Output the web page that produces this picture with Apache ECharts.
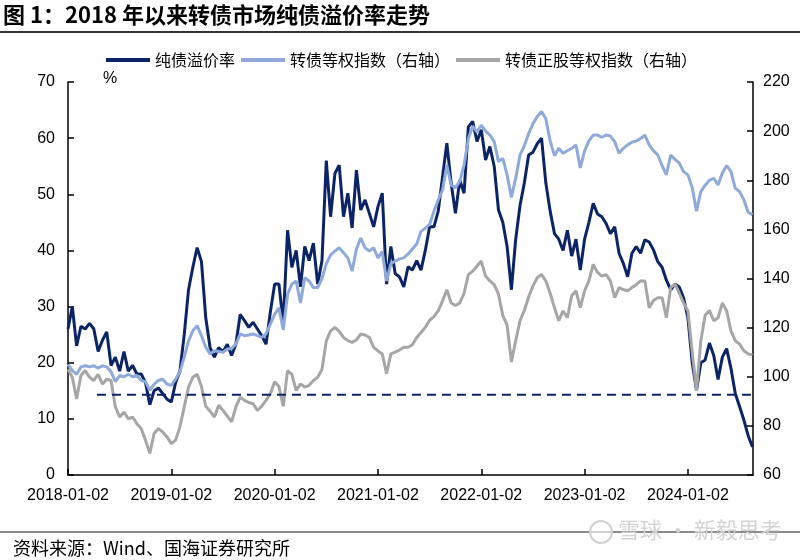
<!DOCTYPE html>
<html><head><meta charset="utf-8">
<script src="https://cdn.jsdelivr.net/npm/echarts@6/dist/echarts.min.js"></script>
<style>html,body{margin:0;padding:0;background:#fff}#c{width:800px;height:560px}</style>
</head><body><div id="c"></div>
<script>
// x tick labels (one per year, start of axis at 2018-01-02)
const xTickLabels = ['2018-01-02','2019-01-02','2020-01-02','2021-01-02','2022-01-02','2023-01-02','2024-01-02'];
const stepYears = 1 / 24;          // samples every half month
const xMax = 6.63;                 // axis end (~mid Aug 2024), in years since 2018-01-02

// 纯债溢价率 (%), left axis
const premium = [26,30,23,26.5,26,27,26,22,24,25.5,
19.5,21,18.5,22,18.5,19.5,18,18,16.5,12.5,
15,15.5,14.5,13.5,13,16.5,18.5,25,33,37,
40.5,38,28,22.7,21,22.7,21.9,23.3,21.3,23.3,
28.6,27.5,26.3,27.2,26,24.8,23.3,29,34,34,
27,43.6,37,40,33.5,40.7,38.2,41.3,34,38.2,
56,46,53.7,55.2,46,50.2,44,54.3,47.2,49,
46.6,44.2,47.8,50.2,34,40.7,35.9,35.3,33.5,37.1,
36.5,38.2,36.5,40,44.2,44.2,47,53.1,59.1,52,
46.6,52.5,50.2,62,63,59.4,61.5,56.1,58.5,55,
47.2,45,40.7,33,42,48,52,57,57.5,59,
60,52,47,43,42,40,43.6,39,42,36.5,
42,45,48.4,46.5,46,44.8,43,44.2,39.5,37.7,
35.3,39.5,40.7,39.5,41.9,41.5,40.1,38,37,34.7,
33,34,33.5,31.5,28,20,15.1,20,20.5,23.5,
21.3,17,21,22.5,19,14.5,12.2,9.8,7,5];

// 转债等权指数 (right axis)
const cbIndex = [105,102.5,101,104,104.5,104,104.5,103.5,104.5,104,
102,98,100.5,100,101,100,100.5,98.5,98,94.5,
97,98.5,99,97,96.5,99,102,108,114.6,118.7,
120.8,116.7,112,109.3,110.6,110.3,110,111.3,111.5,113.3,
117.4,116.7,117,117.4,116.7,116,117.5,121.4,125.4,128.1,
119,133.6,137.7,139,130,140.3,139,136.3,136.3,140,
146,149.5,151.2,152.5,150.5,148.4,143,152,156.5,152.5,
151.2,152.5,148.4,151,139,146,147.1,148,148.4,150,
152,154,159.2,160.5,162,167.4,172,176,186.2,178,
177,179.5,186.2,197,202,199.7,202.4,200,198.4,195.7,
187.6,188.9,182.2,173,180.8,190.3,194,199,203,206,
208,205,196,190,193,191,192,193,194.4,185,
192,196,198.4,198.4,197.5,198.4,198,195.7,191,193,
194.4,195.5,196,197,198.4,194.4,192,190.3,186,182.2,
190.3,188.5,187,183.5,182.2,177,167.4,175.4,178,180,
180.8,178.1,183,186,183.5,176.8,175.4,172,167,166];

// 转债正股等权指数 (right axis)
const stockIndex = [103,99.8,91,100.5,102.5,99.8,98.5,101,97,99,
98.5,87.7,83.6,85.6,82.9,83.6,80.9,78.9,74.2,68.8,
76.9,78.9,77.5,75.5,72.8,74.2,79.6,87.7,95.8,99.8,
101,96,88,86,83.6,88.4,86.3,84,81.6,87.7,
91.7,90.4,89.5,89,86.3,88,90.4,93.1,98,96,
88,102.5,101,94.4,97.1,95.8,96.5,98.5,99.8,103,
114.6,118.7,120.1,118.5,116,114.7,114,115,117.4,117,
116,112,110.5,109.3,101.2,109.3,110,110.9,112,112,
113,116,118,120.1,123,124.5,126.8,130.9,135.4,130,
129,130,134,141.6,143,145,147.1,141,139,137.5,
133.6,125,121,106,114.7,122.8,127,132.5,137,140.3,
141.6,139,134,128.1,122.8,126.8,124,133,135,128.1,
135,139,145.7,142.5,141,141.6,139,132.2,136.3,135.5,
135,136.3,137.5,139,139,128.1,131,132.2,132.2,124,
136.3,137.7,134,130,126.8,110,94.4,114.7,125,127,
122.8,124,130,126.8,118.7,114.7,113.3,110.6,109.3,109];

// dashed reference level (%) and its span (years since 2018-01-02)
const refLevel = 14.3;
const refSpan = [0.28, 6.63];

const seriesNames = ['纯债溢价率', '转债等权指数（右轴）', '转债正股等权指数（右轴）'];
const colors = ['#0b2465', '#8eaadb', '#a6a6a6'];

const toXY = arr => arr.map((v, i) => [i * stepYears, v]);

const numFont = 'Liberation Sans, Arial, sans-serif';
const cjkFont = 'Noto Sans CJK SC, sans-serif';

const chart = echarts.init(document.getElementById('c'), null, {renderer: 'canvas'});
chart.setOption({
  animation: false,
  backgroundColor: '#fff',
  grid: {left: 68, right: 47, top: 82, bottom: 85, containLabel: false},
  legend: {
    data: seriesNames,
    left: 101, top: 47,
    icon: 'rect', itemWidth: 44, itemHeight: 4, itemGap: 6,
    textStyle: {fontFamily: cjkFont, fontSize: 16, color: '#000'}
  },
  xAxis: {
    type: 'value', min: 0, max: xMax, interval: 1,
    axisLine: {show: true, lineStyle: {color: '#000', width: 1.5}},
    axisTick: {show: true, inside: true, length: 6, lineStyle: {color: '#000', width: 1.5}},
    axisLabel: {
      fontFamily: numFont, fontSize: 16, color: '#000', margin: 13, showMaxLabel: false,
      formatter: v => (Number.isInteger(v) && xTickLabels[v]) ? xTickLabels[v] : ''
    },
    splitLine: {show: false}
  },
  yAxis: [{
    type: 'value', min: 0, max: 70, interval: 10, position: 'left',
    axisLine: {show: true, lineStyle: {color: '#000', width: 1.5}},
    axisTick: {show: true, inside: true, length: 6, lineStyle: {color: '#000', width: 1.5}},
    axisLabel: {fontFamily: numFont, fontSize: 16, color: '#000', margin: 13},
    splitLine: {show: false}
  }, {
    type: 'value', min: 60, max: 220, interval: 20, position: 'right',
    axisLine: {show: true, lineStyle: {color: '#000', width: 1.5}},
    axisTick: {show: true, inside: true, length: 6, lineStyle: {color: '#000', width: 1.5}},
    axisLabel: {fontFamily: numFont, fontSize: 16, color: '#000', margin: 10},
    splitLine: {show: false}
  }],
  series: [{
    name: seriesNames[0], type: 'line', yAxisIndex: 0, data: toXY(premium),
    symbol: 'none', color: colors[0], lineStyle: {width: 3, color: colors[0]}, z: 2
  }, {
    name: seriesNames[1], type: 'line', yAxisIndex: 1, data: toXY(cbIndex),
    symbol: 'none', color: colors[1], lineStyle: {width: 3, color: colors[1]}, z: 3
  }, {
    name: seriesNames[2], type: 'line', yAxisIndex: 1, data: toXY(stockIndex),
    symbol: 'none', color: colors[2], lineStyle: {width: 3, color: colors[2]}, z: 4
  }, {
    name: 'ref', type: 'line', yAxisIndex: 0,
    data: [[refSpan[0], refLevel], [refSpan[1], refLevel]],
    symbol: 'none', lineStyle: {width: 2, color: colors[0], type: [9, 6]}, z: 5, silent: true
  }],
  graphic: [
    {type: 'text', left: 3, top: 4, style: {text: '图 1：2018 年以来转债市场纯债溢价率走势', fontFamily: cjkFont, fontWeight: 'bold', fontSize: 22, fill: '#000'}},
    {type: 'line', shape: {x1: 0, y1: 32, x2: 800, y2: 32}, style: {stroke: '#333', lineWidth: 2}},
    {type: 'text', left: 103, top: 71, style: {text: '%', fontFamily: numFont, fontSize: 16, fill: '#000'}},
    {type: 'line', shape: {x1: 0, y1: 532, x2: 800, y2: 532}, style: {stroke: '#666', lineWidth: 1.5}},
    {type: 'text', left: 13, top: 539, style: {text: '资料来源：Wind、国海证券研究所', fontFamily: cjkFont, fontSize: 18, fill: '#000'}},
    {type: 'circle', shape: {cx: 601, cy: 532, r: 11}, style: {fill: 'rgba(255,255,255,0.6)', stroke: '#d0d0d0', lineWidth: 2}},
    {type: 'text', left: 618, top: 519, style: {text: '雪球 · 新毅思考', fontFamily: cjkFont, fontSize: 22, fill: '#d4d4d4'}}
  ]
});
</script>
</body></html>
